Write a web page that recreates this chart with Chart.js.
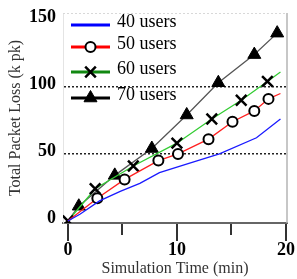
<!DOCTYPE html>
<html>
<head>
<meta charset="utf-8">
<script src="https://cdn.jsdelivr.net/npm/chart.js@4.4.1/dist/chart.umd.min.js"></script>
<style>
  html, body { margin: 0; padding: 0; background: #fff; }
</style>
</head>
<body>
<canvas id="lossChart" width="297" height="279"></canvas>
<script>
// series (x = minutes, y = k packets)
const seriesLabels = ['40 users', '50 users', '60 users', '70 users'];

const users40X = [0, 1.1, 2.9, 4.8, 6.6, 8.4, 11.1, 13.9, 17.3, 19.5];
const users40Y = [0, 5, 15, 22, 28, 36, 43, 50, 62, 76];

const users50X = [0, 2.7, 5.2, 8.3, 10.1, 12.9, 15.1, 17.1, 18.4, 19.5];
const users50Y = [0, 17, 31, 45, 50, 61, 74, 82, 91, 95];

const users60X = [0, 2.5, 6.0, 10.0, 13.2, 15.9, 18.3, 19.5];
const users60Y = [0, 24, 41, 58, 76, 90, 104, 111];

const users70X = [0, 1.0, 4.3, 7.7, 10.9, 13.8, 17.1, 19.2];
const users70Y = [0, 11, 34, 54, 79, 103, 124, 140];

const xTicks = [0, 5, 10, 15, 20];
const xTickLabels = ['0', '', '10', '', '20'];
const yTicks = [0, 50, 100, 150];

const serif = "'Liberation Serif', 'Times New Roman', serif";

const pts = (xs, ys) => xs.map((x, i) => ({ x: x, y: ys[i] }));

// hide the marker on chosen ends of a line
const markerSize = (r, skipFirst, skipLast) => ctx => {
    const n = ctx.dataset.data.length;
    if (skipFirst && ctx.dataIndex === 0) return 0;
    if (skipLast && ctx.dataIndex === n - 1) return 0;
    return r;
};

// frame: light top edge, grey right edge, x ticks (long at labelled ones)
const frame = {
    id: 'frame',
    beforeDatasetsDraw(chart) {
        const { ctx, chartArea: a } = chart;
        ctx.save();
        ctx.strokeStyle = '#d8d8d8';
        ctx.lineWidth = 1;
        ctx.setLineDash([2, 2]);
        ctx.beginPath();
        ctx.moveTo(a.left, a.top + 0.5);
        ctx.lineTo(a.right, a.top + 0.5);
        ctx.stroke();
        ctx.setLineDash([]);
        ctx.strokeStyle = '#b4b4b4';
        ctx.lineWidth = 1.5;
        ctx.beginPath();
        ctx.moveTo(a.right, a.top);
        ctx.lineTo(a.right, a.bottom);
        ctx.stroke();
        ctx.restore();
    },
    afterDraw(chart) {
        const { ctx, chartArea: a } = chart;
        const sx = chart.scales.x;
        ctx.save();
        ctx.strokeStyle = '#333';
        ctx.lineWidth = 2;
        xTicks.forEach((v, i) => {
            const px = Math.round(sx.getPixelForValue(v));
            const len = xTickLabels[i] ? 17 : 11;
            ctx.beginPath();
            ctx.moveTo(px, a.bottom + 1);
            ctx.lineTo(px, a.bottom + 1 + len);
            ctx.stroke();
        });
        ctx.restore();
    }
};

// legend inside the plot: line with marker, then label
const legendRows = [25, 47, 72, 98];
const legendColors = ['#0000ff', '#ff0000', '#118811', '#000000'];
const insideLegend = {
    id: 'insideLegend',
    afterDraw(chart) {
        const ctx = chart.ctx;
        chart.data.datasets.forEach((ds, i) => {
            const y = legendRows[i];
            ctx.save();
            ctx.strokeStyle = legendColors[i];
            ctx.lineWidth = 3;
            ctx.beginPath();
            ctx.moveTo(71, y);
            ctx.lineTo(110, y);
            ctx.stroke();
            if (ds.pointStyle) {
                ctx.strokeStyle = '#000';
                ctx.fillStyle = ds.pointBackgroundColor;
                ctx.lineWidth = ds.pointBorderWidth;
                Chart.helpers.drawPoint(ctx, {
                    pointStyle: ds.pointStyle,
                    rotation: 0,
                    radius: ds.legendRadius,
                    borderWidth: ds.pointBorderWidth
                }, 90.5, y);
            }
            ctx.fillStyle = '#000';
            ctx.font = '18px ' + serif;
            ctx.textBaseline = 'middle';
            ctx.textAlign = 'left';
            ctx.fillText(ds.label, 117, y - 3);
            ctx.restore();
        });
    }
};

new Chart(document.getElementById('lossChart'), {
    type: 'line',
    data: {
        datasets: [
            {
                label: seriesLabels[0],
                data: pts(users40X, users40Y),
                borderColor: '#1a1aff',
                borderWidth: 1.3,
                pointRadius: 0,
                pointStyle: false
            },
            {
                label: seriesLabels[1],
                data: pts(users50X, users50Y),
                borderColor: '#ff2020',
                borderWidth: 1.3,
                pointStyle: 'circle',
                pointRadius: markerSize(5, true, true),
                pointBackgroundColor: '#fff',
                pointBorderColor: '#000',
                pointBorderWidth: 2,
                legendRadius: 5
            },
            {
                label: seriesLabels[2],
                data: pts(users60X, users60Y),
                borderColor: '#33cc33',
                borderWidth: 1.3,
                pointStyle: 'crossRot',
                pointRadius: markerSize(7.5, false, true),
                pointBackgroundColor: '#000',
                pointBorderColor: '#000',
                pointBorderWidth: 2.5,
                legendRadius: 7.5
            },
            {
                label: seriesLabels[3],
                data: pts(users70X, users70Y),
                borderColor: '#555',
                borderWidth: 1.3,
                pointStyle: 'triangle',
                pointRadius: markerSize(7.5, true, false),
                pointBackgroundColor: '#000',
                pointBorderColor: '#000',
                pointBorderWidth: 1,
                legendRadius: 7.5
            }
        ]
    },
    options: {
        responsive: false,
        animation: false,
        layout: { padding: { top: 13, right: 9, left: 0, bottom: 0 } },
        plugins: {
            legend: { display: false },
            tooltip: { enabled: false }
        },
        elements: { line: { tension: 0 } },
        scales: {
            x: {
                type: 'linear',
                min: -0.45,
                max: 20.1,
                afterFit: s => { s.height = 56; s.paddingLeft = 0; s.paddingRight = 0; },
                afterBuildTicks: s => { s.ticks = xTicks.map(v => ({ value: v })); },
                grid: { display: false, drawTicks: false },
                border: { display: true, color: '#666', width: 2 },
                ticks: {
                    autoSkip: false,
                    maxRotation: 0,
                    padding: 17,
                    color: '#000',
                    font: { family: serif, size: 18, weight: 'bold' },
                    callback: (v, i) => xTickLabels[i]
                },
                title: {
                    display: true,
                    text: 'Simulation Time (min)',
                    color: '#333',
                    font: { family: serif, size: 16 },
                    padding: { top: 0, bottom: 1 }
                }
            },
            y: {
                min: -1.5,
                max: 155,
                afterFit: s => { s.width = 63; s.paddingTop = 0; s.paddingBottom = 0; },
                afterBuildTicks: s => { s.ticks = yTicks.map(v => ({ value: v })); },
                grid: {
                    drawTicks: false,
                    lineWidth: 1.5,
                    color: c => (c.tick && (c.tick.value === 50 || c.tick.value === 100)) ? '#222' : 'rgba(0,0,0,0)'
                },
                border: { display: true, color: '#e4e4e4', width: 1, dash: [2, 2] },
                ticks: {
                    padding: 7,
                    labelOffset: -2.5,
                    color: '#000',
                    font: { family: serif, size: 18, weight: 'bold' }
                },
                title: {
                    display: true,
                    text: 'Total Packet Loss (k pk)',
                    color: '#333',
                    font: { family: serif, size: 16 },
                    padding: { top: 6, bottom: 0 }
                }
            }
        }
    },
    plugins: [frame, insideLegend]
});
</script>
</body>
</html>
